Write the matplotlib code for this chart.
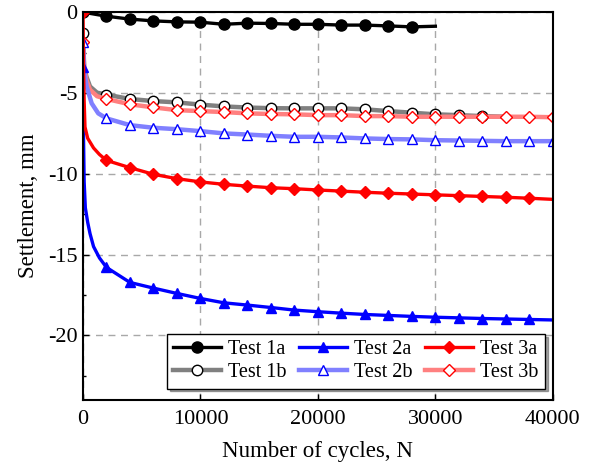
import matplotlib
matplotlib.use("Agg")
import matplotlib.pyplot as plt

plt.rcParams['font.family'] = ['Liberation Serif', 'DejaVu Serif']
plt.rcParams['axes.unicode_minus'] = False
plt.rcParams['font.size'] = 16

# Test 1a (black, filled circles)
x_1a = [0, 2000, 4000, 6000, 8000, 10000, 12000, 14000, 16000, 18000,
        20000, 22000, 24000, 26000, 28000, 30000]
y_1a = [0, -0.25, -0.43, -0.54, -0.6, -0.62, -0.75, -0.68, -0.7, -0.75,
        -0.75, -0.8, -0.8, -0.85, -0.91, -0.87]

# Test 2a (blue, filled triangles)
x_2a = [0, 50, 100, 200, 400, 600, 900, 1400, 2000, 4000, 6000, 8000, 10000,
        12000, 14000, 16000, 18000, 20000, 22000, 24000, 26000, 28000, 30000,
        32000, 34000, 36000, 38000, 40000]
y_2a = [-3.4, -8.0, -10.5, -12.1, -13.0, -13.7, -14.5, -15.2, -15.79, -16.72,
        -17.07, -17.4, -17.71, -17.98, -18.12, -18.27, -18.43, -18.53, -18.62,
        -18.7, -18.76, -18.82, -18.87, -18.91, -18.95, -18.98, -19.01, -19.04]

# Test 3a (red, filled diamonds)
x_3a = [0, 30, 60, 100, 170, 400, 900, 1400, 2000, 4000, 6000, 8000, 10000,
        12000, 14000, 16000, 18000, 20000, 22000, 24000, 26000, 28000, 30000,
        32000, 34000, 36000, 38000, 40000]
y_3a = [0, -2.0, -4.0, -5.5, -7.1, -7.8, -8.4, -8.8, -9.17, -9.62, -10.03,
        -10.3, -10.5, -10.65, -10.76, -10.86, -10.92, -11.0, -11.07, -11.14,
        -11.2, -11.25, -11.3, -11.35, -11.4, -11.45, -11.51, -11.58]

# Test 1b (grey, open circles)
x_1b = [0, 100, 300, 600, 1200, 2000, 4000, 6000, 8000, 10000, 12000, 14000,
        16000, 18000, 20000, 22000, 24000, 26000, 28000, 30000, 32000, 34000, 36000]
y_1b = [-1.26, -3.4, -4.0, -4.6, -4.98, -5.1, -5.37, -5.5, -5.58, -5.72, -5.83,
        -5.9, -5.94, -5.95, -5.95, -5.95, -6.01, -6.12, -6.22, -6.32, -6.37,
        -6.43, -6.47]

# Test 2b (light blue, open triangles)
x_2b = [0, 100, 310, 740, 1300, 2000, 4000, 6000, 8000, 10000, 12000, 14000,
        16000, 18000, 20000, 22000, 24000, 26000, 28000, 30000, 32000, 34000,
        36000, 38000, 40000]
y_2b = [-1.85, -3.6, -4.6, -5.64, -6.26, -6.57, -6.99, -7.15, -7.24, -7.36,
        -7.5, -7.57, -7.65, -7.71, -7.71, -7.75, -7.81, -7.85, -7.87, -7.92,
        -7.94, -7.96, -7.98, -7.98, -7.98]

# Test 3b (light red, open diamonds)
x_3b = [0, 100, 300, 600, 1200, 2000, 4000, 6000, 8000, 10000, 12000, 14000,
        16000, 18000, 20000, 22000, 24000, 26000, 28000, 30000, 32000, 34000,
        36000, 38000, 40000]
y_3b = [-1.85, -3.5, -4.2, -4.8, -5.2, -5.37, -5.7, -5.89, -6.06, -6.12, -6.18,
        -6.26, -6.3, -6.32, -6.37, -6.37, -6.43, -6.43, -6.47, -6.47, -6.47,
        -6.47, -6.47, -6.47, -6.5]


def marker_idx(xs, last=None):
    # markers only at x=0 and every 2000 cycles
    idx = []
    for i, x in enumerate(xs):
        if x == 0 or (x % 2000 == 0 and (last is None or x <= last)):
            idx.append(i)
    return idx


fig = plt.figure(figsize=(5.97, 4.68), dpi=100)
ax = fig.add_axes([0.139, 0.145, 0.787, 0.829])

ax.grid(True, which='major', color='#a8a8a8', linestyle=(0, (5, 4)), linewidth=1.0)
ax.set_axisbelow(True)

lw_b = 3.2
ax.plot(x_1b, y_1b, color='#808080', lw=lw_b, marker='o', ms=7.5,
        mfc='white', mec='black', mew=1.0, markevery=marker_idx(x_1b, 34000), label='Test 1b')
ax.plot(x_3b, y_3b, color='#ff8080', lw=lw_b, marker='D', ms=6.5,
        mfc='white', mec='red', mew=1.0, markevery=marker_idx(x_3b), label='Test 3b')
ax.plot(x_2b, y_2b, color='#8080ff', lw=lw_b, marker='^', ms=7.5,
        mfc='white', mec='blue', mew=1.0, markevery=marker_idx(x_2b), label='Test 2b')

lw_a = 2.4
ax.plot(x_1a, y_1a, color='black', lw=lw_a, marker='o', ms=8,
        markevery=marker_idx(x_1a, 28000), label='Test 1a')
ax.plot(x_2a, y_2a, color='blue', lw=lw_a, marker='^', ms=7.5,
        markevery=marker_idx(x_2a, 38000), label='Test 2a')
ax.plot(x_3a, y_3a, color='red', lw=lw_a, marker='D', ms=6.5,
        markevery=marker_idx(x_3a, 38000), label='Test 3a')

ax.set_xlim(0, 40000)
ax.set_ylim(-24, 0)
ax.set_xticks([0, 10000, 20000, 30000, 40000])
ax.set_yticks([0, -5, -10, -15, -20])
ax.set_yticks([-2.5, -7.5, -12.5, -17.5, -22.5], minor=True)
ax.tick_params(direction='in', length=4, width=1.0, labelsize=16)
ax.tick_params(axis='x', pad=7)
ax.tick_params(axis='y', pad=4)
ax.tick_params(which='minor', direction='in', length=2.5, width=1.0)
for s in ax.spines.values():
    s.set_linewidth(1.5)

ax.set_xlabel('Number of cycles, N', fontsize=16.5, labelpad=9)
ax.set_ylabel('Settlement, mm', fontsize=16.5, labelpad=6)

h, l = ax.get_legend_handles_labels()
order = ['Test 1a', 'Test 1b', 'Test 2a', 'Test 2b', 'Test 3a', 'Test 3b']
hs = [h[l.index(o)] for o in order]
leg = ax.legend(hs, order, ncol=3, loc='lower right', bbox_to_anchor=(0.983, 0.03),
                fontsize=14.5, frameon=True, fancybox=False, shadow=True,
                edgecolor='black', handlelength=2.4, columnspacing=0.6,
                handletextpad=0.35, borderpad=0.3, labelspacing=0.2, borderaxespad=0)
leg.get_frame().set_linewidth(1.0)

fig.savefig('out.png', dpi=100)
